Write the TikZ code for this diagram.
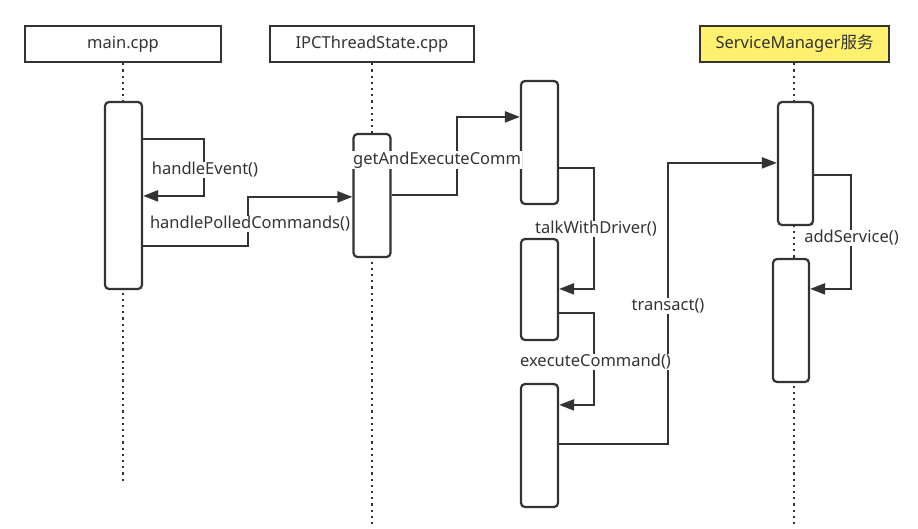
\documentclass[tikz,border=0pt]{standalone}
\usepackage{fontspec}
\setmainfont{Noto Sans}
\newfontfamily\cjk{Noto Sans CJK SC}
\usetikzlibrary{arrows.meta}
\definecolor{ink}{HTML}{333333}
\definecolor{smyellow}{RGB}{255,240,110}
\tikzset{
  head/.style={draw=ink, line width=2.2pt, minimum height=36pt, inner sep=0pt, text=ink},
  act/.style={draw=ink, fill=white, line width=2.2pt, rounded corners=4pt, minimum width=37pt, inner sep=0pt},
  life/.style={ink, line width=2.2pt, dash pattern=on 2.2pt off 4pt},
  msg/.style={ink, line width=2.2pt, -{Triangle[length=15pt,width=11pt]}},
  lbl/.style={fill=white, text=ink, inner xsep=1pt, inner ysep=0.5pt},
}

\begin{document}
\begin{tikzpicture}[x=1pt, y=-1pt, font=\fontsize{16.5}{19}\selectfont]
    \useasboundingbox (0,0) rectangle (918,528);
    \node[head, minimum width=196pt] (mainHead) at (123,44) {main.cpp};
    \node[head, minimum width=204pt] (ipcHead) at (372,44) {IPCThreadState.cpp};
    \node[head, minimum width=189pt, fill=smyellow] (smHead) at (794.5,44) {ServiceManager{\cjk 服务}};
    \coordinate (mainEnd) at (123,483);
    \coordinate (ipcEnd) at (372,528);
    \coordinate (smEnd) at (794,528);
    \draw[life] (mainHead.south) -- (mainEnd);
    \draw[life] (ipcHead.south) -- (ipcEnd);
    \draw[life] (smHead.south -| smEnd) -- (smEnd);

    \node[act, minimum height=187pt] (mainAct) at (123.5,195.5) {};
    \node[act, minimum height=123pt] (ipcAct) at (372,195.5) {};
    \node[act, minimum height=123pt] (drvA) at (539.5,142.5) {};
    \node[act, minimum height=101pt] (drvB) at (539.5,289.5) {};
    \node[act, minimum height=123pt] (drvC) at (539.5,445.5) {};
    \node[act, minimum width=35pt, minimum height=123pt] (smA) at (795.5,163.5) {};
    \node[act, minimum width=36pt, minimum height=123pt] (smB) at (791,320.5) {};

    \draw[msg] ([yshift=-38pt]mainAct.north east) -- ++(61,0) |- ([yshift=-95pt]mainAct.north east);
    \draw[msg] ([yshift=-145pt]mainAct.north east) -- ++(105,0) |- ([yshift=-64pt]ipcAct.north west);
    \draw[msg] ([yshift=-62pt]ipcAct.north east) -- ++(65,0) |- ([yshift=-37pt]drvA.north west);
    \draw[msg] ([yshift=-88pt]drvA.north east) -- ++(35,0) |- ([yshift=-51pt]drvB.north east);
    \draw[msg] ([yshift=-75pt]drvB.north east) -- ++(35,0) |- ([yshift=-22pt]drvC.north east);
    \draw[msg] ([yshift=-61pt]drvC.north east) -- ++(109,0) |- ([yshift=-62pt]smA.north west);
    \draw[msg] ([yshift=-74pt]smA.north east) -- ++(37,0) |- ([yshift=-31pt]smB.north east);

    \node[lbl] (lEvent) at (205,170) {handleEvent()};
    \node[lbl] (lPolled) at (250,224) {handlePolledCommands()};
    \node[lbl, anchor=west] (lGet) at (352,160) {getAndExecuteComm};
    \node[lbl] (lTalk) at (596,229) {talkWithDriver()};
    \node[lbl] (lExec) at (595.5,362) {executeCommand()};
    \node[lbl] (lTrans) at (668,306) {transact()};
    \node[lbl] (lAdd) at (851.5,238) {addService()};
\end{tikzpicture}
\end{document}
